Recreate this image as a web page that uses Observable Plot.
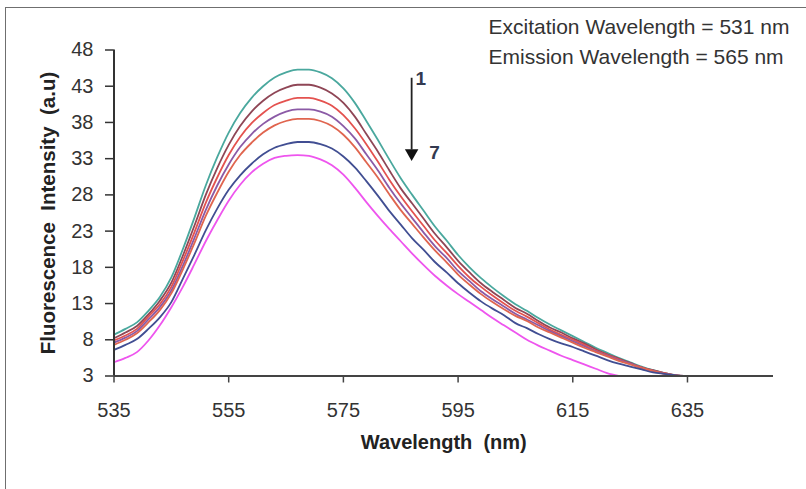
<!DOCTYPE html>
<html>
<head>
<meta charset="utf-8">
<script src="https://cdn.jsdelivr.net/npm/d3@7"></script>
<script src="https://cdn.jsdelivr.net/npm/@observablehq/plot@0.6"></script>
<style>
  html, body { margin: 0; padding: 0; background: #fff; overflow: hidden; }
  #wrap { position: relative; width: 806px; height: 489px; }
  #border { position: absolute; left: 5px; top: 7px; width: 820px; height: 500px; border: 1.5px solid #6f6f6f; box-sizing: border-box; pointer-events: none; }
  #chart { position: absolute; left: 0; top: 0; }
</style>
</head>
<body>
<div id="wrap"><div id="border"></div><div id="chart"></div></div>
<script>
// Wavelength grid (nm)
const wavelength = [535,537,539,541,543,545,547,549,551,553,555,557,559,561,563,565,567,569,571,573,575,577,579,581,583,585,587,589,591,593,595,597,599,601,603,605,607,609,611,613,615,617,619,621,623,625,627,629,631,633,635];

// Fluorescence intensity (a.u) for spectra 1..7 (top to bottom)
const spectrum1 = [8.7,9.5,10.4,12.0,13.9,16.6,20.5,24.8,29.3,33.2,36.6,39.3,41.4,43.0,44.2,44.9,45.3,45.3,44.9,44.1,42.7,40.7,38.2,35.6,32.9,30.3,28.0,25.8,23.6,21.7,19.7,18.0,16.5,15.2,14.0,12.9,12.0,11.0,10.1,9.3,8.5,7.7,6.9,6.2,5.5,4.9,4.3,3.8,3.4,3.1,3.0];
const spectrum2 = [8.2,9.0,9.9,11.5,13.4,15.9,19.6,23.7,28.0,31.7,34.9,37.5,39.5,41.0,42.1,42.8,43.2,43.2,42.8,42.0,40.7,38.8,36.4,34.0,31.4,28.9,26.8,24.7,22.6,20.8,18.9,17.3,15.8,14.6,13.5,12.4,11.6,10.6,9.7,9.0,8.2,7.5,6.7,6.0,5.4,4.8,4.2,3.8,3.4,3.1,3.0];
const spectrum3 = [7.9,8.6,9.5,11.2,12.9,15.3,18.9,22.8,26.9,30.4,33.5,36.0,37.9,39.3,40.4,41.0,41.4,41.4,41.0,40.3,39.0,37.2,35.0,32.6,30.1,27.8,25.7,23.7,21.7,20.0,18.2,16.6,15.3,14.1,13.0,12.0,11.2,10.3,9.4,8.7,8.0,7.3,6.5,5.9,5.3,4.7,4.2,3.7,3.4,3.1,3.0];
const spectrum4 = [7.6,8.3,9.2,10.8,12.5,14.8,18.2,22.0,25.9,29.3,32.2,34.6,36.4,37.8,38.8,39.5,39.8,39.8,39.5,38.8,37.5,35.8,33.6,31.4,29.0,26.8,24.8,22.8,20.9,19.3,17.5,16.1,14.7,13.6,12.6,11.6,10.8,10.0,9.2,8.5,7.8,7.1,6.4,5.8,5.2,4.7,4.1,3.7,3.3,3.1,3.0];
const spectrum5 = [7.3,8.0,8.9,10.4,12.1,14.4,17.7,21.3,25.1,28.3,31.2,33.5,35.2,36.6,37.6,38.2,38.5,38.5,38.2,37.5,36.3,34.6,32.5,30.4,28.1,25.9,24.0,22.1,20.3,18.7,17.0,15.6,14.3,13.2,12.2,11.3,10.6,9.7,9.0,8.3,7.6,6.9,6.3,5.7,5.1,4.6,4.1,3.7,3.3,3.1,3.0];
const spectrum6 = [6.6,7.3,8.1,9.5,11.1,13.2,16.4,19.7,23.1,26.1,28.7,30.7,32.3,33.6,34.5,35.0,35.3,35.3,35.0,34.4,33.3,31.8,29.9,27.9,25.8,23.9,22.0,20.4,18.7,17.3,15.8,14.5,13.3,12.3,11.4,10.3,9.6,8.8,8.1,7.5,7.0,6.4,5.8,5.2,4.7,4.3,3.9,3.5,3.3,3.1,3.0];
const spectrum7 = [4.9,5.5,6.3,7.9,10.0,12.5,15.3,18.4,21.6,24.5,27.2,29.4,31.1,32.3,33.1,33.4,33.5,33.4,32.9,32.1,30.8,29.0,27.0,25.1,23.3,21.6,19.9,18.3,16.8,15.5,14.3,13.2,12.1,11.0,10.0,9.0,8.0,7.2,6.5,5.8,5.2,4.6,4.0,3.4,3.0,null,null,null,null,null,null];

const seriesNames = ["1","2","3","4","5","6","7"];
const seriesColors = ["#4aa89e","#8f4656","#e4524f","#8b5aa6","#e0654f","#414e92","#ee55ee"];

const xTicks = [535,555,575,595,615,635];
const yTicks = [3,8,13,18,23,28,33,38,43,48];

const annotationLines = ["Excitation Wavelength = 531 nm", "Emission Wavelength = 565 nm"];
const arrowLabels = [{x: 588.5, y: 44.0, text: "1"}, {x: 590.9, y: 33.85, text: "7"}];
const arrowShaft = [{x: 586.9, y1: 44.1, y2: 34.2}];
const arrowHead = [{x: 586.9, y: 33.75}];

const allSpectra = [spectrum1, spectrum2, spectrum3, spectrum4, spectrum5, spectrum6, spectrum7];
const rows = [];
allSpectra.forEach((vals, i) => {
  vals.forEach((v, j) => rows.push({x: wavelength[j], y: v, series: seriesNames[i]}));
});

const font = "'Liberation Sans', Arial, sans-serif";

const chart = Plot.plot({
  width: 806,
  height: 489,
  marginLeft: 113.5,
  marginRight: 33,
  marginTop: 49.5,
  marginBottom: 113.5,
  style: {fontFamily: font, background: "transparent", overflow: "visible"},
  x: {domain: [535, 650]},
  y: {domain: [3, 48]},
  color: {domain: seriesNames, range: seriesColors},
  marks: [
    Plot.line(rows, {x: "x", y: "y", z: "series", stroke: "series", strokeWidth: 1.8, curve: "monotone-x", defined: d => d.y != null}),
    Plot.ruleY([3], {stroke: "#444", strokeWidth: 2}),
    Plot.ruleX([535], {stroke: "#333", strokeWidth: 2}),
    Plot.axisX(xTicks, {tickSize: 7, tickPadding: 20, fontSize: 20, label: null, stroke: "#444", strokeWidth: 1.5, fill: "#333"}),
    Plot.axisY(yTicks, {tickSize: 8.5, tickPadding: 12, fontSize: 20, label: null, stroke: "#333", strokeWidth: 1.5, fill: "#333"}),
    Plot.text(["Wavelength  (nm)"], {frameAnchor: "bottom", dy: 66.5, textAnchor: "middle", lineAnchor: "middle", fontSize: 20, fontWeight: "bold", fill: "#222"}),
    Plot.text(["Fluorescence  Intensity  (a.u)"], {frameAnchor: "left", dx: -65.5, rotate: -90, textAnchor: "middle", lineAnchor: "middle", fontSize: 20.5, fontWeight: "bold", fill: "#222"}),
    Plot.text([annotationLines[0]], {frameAnchor: "top-left", dx: 374.5, dy: -22.5, textAnchor: "start", lineAnchor: "middle", fontSize: 21, fill: "#333"}),
    Plot.text([annotationLines[1]], {frameAnchor: "top-left", dx: 374.5, dy: 7.5, textAnchor: "start", lineAnchor: "middle", fontSize: 21, fill: "#333"}),
    Plot.ruleX(arrowShaft, {x: "x", y1: "y1", y2: "y2", stroke: "#222", strokeWidth: 1.8}),
    Plot.dot(arrowHead, {x: "x", y: "y", symbol: "triangle", rotate: 180, r: 5, fill: "#111", stroke: "none"}),
    Plot.text(arrowLabels, {x: "x", y: "y", text: "text", fontSize: 19, fontWeight: "bold", fill: "#333a50"})
  ]
});
document.getElementById("chart").appendChild(chart);
</script>
</body>
</html>
